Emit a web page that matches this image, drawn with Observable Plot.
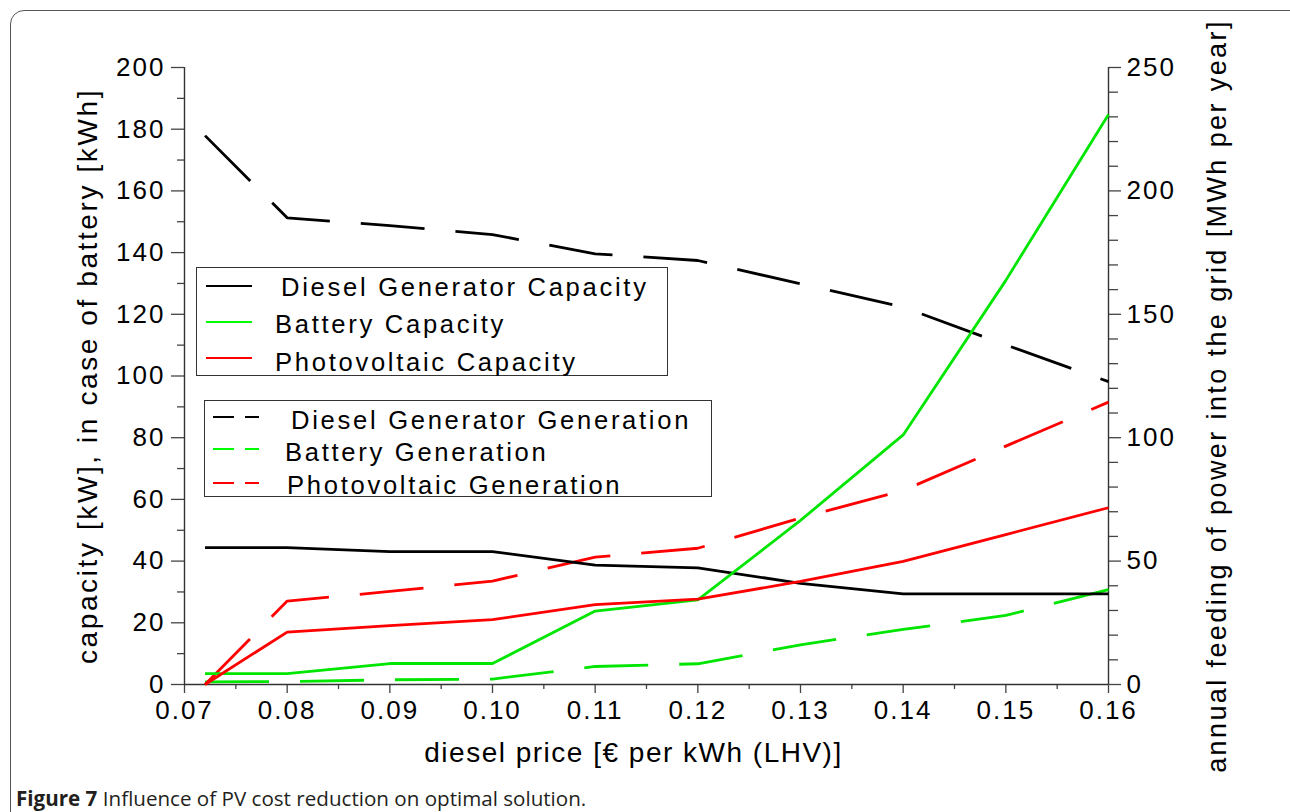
<!DOCTYPE html>
<html><head><meta charset="utf-8">
<script src="https://cdn.jsdelivr.net/npm/d3@7"></script>
<script src="https://cdn.jsdelivr.net/npm/@observablehq/plot@0.6"></script>
<style>
html,body{margin:0;padding:0;background:#fff;}
#page{position:relative;width:1290px;height:812px;overflow:hidden;font-family:"Liberation Sans",Arial,sans-serif;}
#frame{position:absolute;left:10px;top:10px;width:1300px;height:840px;border:1.5px solid #555;border-radius:14px;box-sizing:border-box;}
#chart{position:absolute;left:0;top:0;}
.box{position:absolute;border:1.3px solid #333;box-sizing:border-box;}
.lt{position:absolute;font-size:25.6px;letter-spacing:2.7px;line-height:1;white-space:nowrap;color:#000;}
.ls{position:absolute;height:1.5px;}
#caption{position:absolute;left:16px;top:784px;font-family:"Liberation Sans Narrow","Open Sans",sans-serif;font-size:20.6px;white-space:nowrap;color:#231f20;}
</style></head><body>
<div id="page">
 <div id="frame"></div>
 <div id="chart"></div>
 <div id="legend"></div>
 <div id="caption"><b>Figure 7</b> Influence of PV cost reduction on optimal solution.</div>
</div>
<script>
// ---- data ----
const price = [0.072, 0.08, 0.09, 0.10, 0.11, 0.12, 0.13, 0.14, 0.15, 0.16];
// capacities, left axis [kW] / [kWh]
const dieselCapacity  = [44.4, 44.4, 43.1, 43.1, 38.7, 37.8, 32.8, 29.4, 29.4, 29.4];
const batteryCapacity = [3.5, 3.5, 6.8, 6.8, 23.8, 27.4, 53.2, 80.9, 131, 184.8];
const pvCapacity      = [0, 17, 19.1, 21, 25.9, 27.7, 33.4, 39.9, 48.6, 57.3];
// generation, right axis [MWh per year]
const dieselGeneration  = [222.4, 189.1, 185.9, 182.3, 174.5, 171.8, 162.4, 152.9, 137.6, 122.7];
const batteryGeneration = [1.1, 1.2, 1.9, 2.2, 7.3, 8.4, 16.1, 22.3, 28, 38.4];
const pvGeneration      = [0, 33.8, 37.7, 41.9, 51.6, 55.2, 67.5, 78.6, 96.6, 114.4];

const capacityNames = ["Diesel Generator Capacity", "Battery Capacity", "Photovoltaic Capacity"];
const generationNames = ["Diesel Generator Generation", "Battery Generation", "Photovoltaic Generation"];
const seriesColors = ["#000000", "#00e600", "#ff0000"];
const legendColors = ["#000000", "#00ff00", "#ff0000"];

const xTicks = [0.07, 0.08, 0.09, 0.10, 0.11, 0.12, 0.13, 0.14, 0.15, 0.16];
const xMinorTicks = [0.075, 0.085, 0.095, 0.105, 0.115, 0.125, 0.135, 0.145, 0.155];
const leftTicks = [0, 20, 40, 60, 80, 100, 120, 140, 160, 180, 200];
const leftMinorTicks = [10, 30, 50, 70, 90, 110, 130, 150, 170, 190];
const rightTicks = [0, 50, 100, 150, 200, 250];
const rightMinorTicks = [10, 20, 30, 40, 60, 70, 80, 90, 110, 120, 130, 140, 160, 170, 180, 190, 210, 220, 230, 240];

const leftTitle = "capacity [kW], in case of battery [kWh]";
const rightTitle = "annual feeding of power into the grid [MWh per year]";
const xTitle = "diesel price [€ per kWh (LHV)]";

const leftMax = 200, rightMax = 250;
const k = leftMax / rightMax;

// ---- tables ----
const capacityValues = [dieselCapacity, batteryCapacity, pvCapacity];
const generationValues = [dieselGeneration, batteryGeneration, pvGeneration];
const capRows = capacityNames.map((name, i) => price.map((p, j) => ({series: name, price: p, value: capacityValues[i][j], y: capacityValues[i][j]})));
const genRows = generationNames.map((name, i) => price.map((p, j) => ({series: name, price: p, value: generationValues[i][j], y: generationValues[i][j] * k})));

const lineMarks = [];
genRows.forEach((rows, i) => lineMarks.push(Plot.line(rows, {x: "price", y: "y", stroke: seriesColors[i], strokeWidth: 2.8, strokeDasharray: "64,31", strokeLinecap: "butt", strokeLinejoin: "round"})));
capRows.forEach((rows, i) => lineMarks.push(Plot.line(rows, {x: "price", y: "y", stroke: seriesColors[i], strokeWidth: 2.8, strokeLinecap: "butt", strokeLinejoin: "round"})));

const chart = Plot.plot({
  width: 1290, height: 775,
  marginLeft: 184, marginRight: 182, marginTop: 67, marginBottom: 91,
  x: {domain: [0.07, 0.16], label: null},
  y: {domain: [0, leftMax], label: null},
  style: "background: transparent; font-family: 'Liberation Sans', Arial, sans-serif; font-size: 26px; letter-spacing: 2px; color: #000;",
  marks: [
    Plot.axisX(xTicks, {tickSize: 9, tickPadding: 7, tickFormat: d3.format(".2f"), label: null, stroke: "#444", strokeWidth: 1.3}),
    Plot.axisX(xMinorTicks, {tickSize: 5, tickFormat: () => "", label: null, stroke: "#444", strokeWidth: 1.3}),
    Plot.axisY(leftTicks, {anchor: "left", tickSize: 13, tickPadding: 6, label: null, stroke: "#444", strokeWidth: 1.3}),
    Plot.axisY(leftMinorTicks, {anchor: "left", tickSize: 7, tickFormat: () => "", label: null, stroke: "#444", strokeWidth: 1.3}),
    Plot.axisY(rightTicks.map(v => v * k), {anchor: "right", tickSize: 12, tickPadding: 6, tickFormat: v => String(Math.round(v / k)), label: null, stroke: "#444", strokeWidth: 1.3}),
    Plot.axisY(rightMinorTicks.map(v => v * k), {anchor: "right", tickSize: 9, tickFormat: () => "", label: null, stroke: "#444", strokeWidth: 1.3}),
    Plot.ruleX([0.07], {stroke: "#333", strokeWidth: 1.4}),
    Plot.ruleX([0.16], {stroke: "#333", strokeWidth: 1.4}),
    Plot.ruleY([0], {stroke: "#333", strokeWidth: 1.4}),
    ...lineMarks,
    Plot.text([leftTitle], {text: d => d, frameAnchor: "left", rotate: -90, textAnchor: "middle", lineAnchor: "middle", dx: -96, fontSize: 28}),
    Plot.text([rightTitle], {text: d => d, frameAnchor: "right", rotate: -90, textAnchor: "middle", lineAnchor: "middle", dx: 109, dy: 20, fontSize: 27}),
    Plot.text([xTitle], {text: d => d, frameAnchor: "bottom", textAnchor: "middle", lineAnchor: "middle", dx: -13, dy: 69, fontSize: 28})
  ]
});
// per-title letter spacing
const spacing = {[leftTitle]: "2.6px", [rightTitle]: "2.4px", [xTitle]: "1.5px"};
chart.querySelectorAll("text").forEach(t => { if (spacing[t.textContent]) t.style.letterSpacing = spacing[t.textContent]; });
document.getElementById("chart").appendChild(chart);

// ---- legends ----
const legend = document.getElementById("legend");
function box(l, t, w, h) {
  const d = document.createElement("div");
  d.className = "box";
  Object.assign(d.style, {left: l + "px", top: t + "px", width: w + "px", height: h + "px"});
  legend.appendChild(d);
}
function seg(l, t, w, c) {
  const d = document.createElement("div");
  d.className = "ls";
  Object.assign(d.style, {left: l + "px", top: t + "px", width: w + "px", background: c});
  legend.appendChild(d);
}
function label(txt, l, t) {
  const d = document.createElement("div");
  d.className = "lt";
  d.textContent = txt;
  Object.assign(d.style, {left: l + "px", top: t + "px"});
  legend.appendChild(d);
}
box(196, 267, 472, 109);
const capY = [285, 321, 357], capTextX = [281, 275, 275], capTextY = [275, 312, 350];
capacityNames.forEach((n, i) => { seg(206, capY[i], 46, legendColors[i]); label(n, capTextX[i], capTextY[i]); });
box(204, 400, 508, 97);
const genY = [416, 448, 482], genTextX = [291, 285, 287], genTextY = [408, 440, 473];
generationNames.forEach((n, i) => { seg(213, genY[i], 21, legendColors[i]); seg(245, genY[i], 14, legendColors[i]); label(n, genTextX[i], genTextY[i]); });
</script>
</body></html>
